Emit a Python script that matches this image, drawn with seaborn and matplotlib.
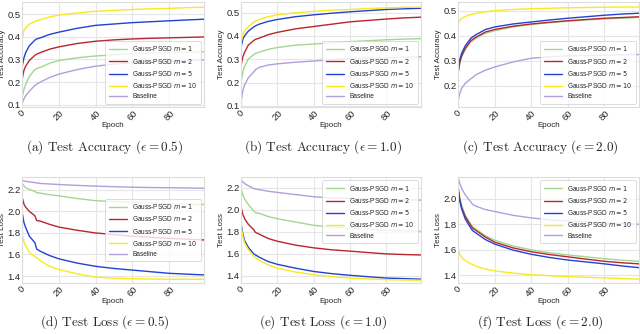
import matplotlib
matplotlib.use('Agg')
import matplotlib.pyplot as plt
import seaborn as sns
import pandas as pd

epochs = [0, 1, 2, 4, 7, 8, 10, 15, 20, 30, 40, 50, 60, 70, 80, 90, 99]

labels = ['Gauss-PSGD $m = 1$', 'Gauss-PSGD $m = 2$', 'Gauss-PSGD $m = 5$',
          'Gauss-PSGD $m = 10$', 'Baseline']
colors = ['#a3d68f', '#b8262e', '#2342d2', '#f9ea1c', '#b49ddb']

# test accuracy, eps = 0.5
acc05_m1 = [0.13, 0.165, 0.19, 0.225, 0.255, 0.26, 0.265, 0.283, 0.295, 0.307, 0.315, 0.32, 0.325, 0.328, 0.33, 0.332, 0.334]
acc05_m2 = [0.21, 0.25, 0.27, 0.295, 0.318, 0.323, 0.33, 0.345, 0.355, 0.37, 0.38, 0.386, 0.39, 0.393, 0.395, 0.397, 0.399]
acc05_m5 = [0.265, 0.305, 0.33, 0.36, 0.385, 0.39, 0.395, 0.41, 0.42, 0.437, 0.45, 0.456, 0.462, 0.466, 0.47, 0.474, 0.477]
acc05_m10 = [0.385, 0.425, 0.44, 0.455, 0.467, 0.47, 0.475, 0.487, 0.495, 0.505, 0.512, 0.516, 0.52, 0.523, 0.525, 0.528, 0.53]
acc05_base = [0.105, 0.125, 0.14, 0.16, 0.185, 0.19, 0.2, 0.22, 0.235, 0.255, 0.27, 0.279, 0.285, 0.289, 0.292, 0.295, 0.298]

# test accuracy, eps = 1.0
acc10_m1 = [0.2, 0.245, 0.27, 0.3, 0.32, 0.325, 0.33, 0.342, 0.35, 0.36, 0.365, 0.37, 0.375, 0.379, 0.383, 0.386, 0.388]
acc10_m2 = [0.27, 0.31, 0.33, 0.36, 0.38, 0.385, 0.39, 0.405, 0.415, 0.43, 0.44, 0.45, 0.46, 0.466, 0.472, 0.477, 0.48]
acc10_m5 = [0.35, 0.385, 0.4, 0.42, 0.438, 0.443, 0.45, 0.462, 0.47, 0.482, 0.49, 0.497, 0.503, 0.508, 0.513, 0.516, 0.518]
acc10_m10 = [0.37, 0.405, 0.42, 0.44, 0.458, 0.463, 0.47, 0.482, 0.49, 0.499, 0.505, 0.51, 0.513, 0.517, 0.52, 0.522, 0.523]
acc10_base = [0.115, 0.165, 0.19, 0.22, 0.245, 0.255, 0.265, 0.275, 0.28, 0.287, 0.292, 0.298, 0.302, 0.304, 0.306, 0.308, 0.31]

# test accuracy, eps = 2.0
acc20_m1 = [0.25, 0.29, 0.315, 0.345, 0.375, 0.38, 0.39, 0.41, 0.42, 0.435, 0.445, 0.452, 0.458, 0.463, 0.467, 0.47, 0.473]
acc20_m2 = [0.25, 0.295, 0.32, 0.35, 0.38, 0.385, 0.395, 0.415, 0.425, 0.438, 0.447, 0.454, 0.46, 0.465, 0.47, 0.473, 0.476]
acc20_m5 = [0.26, 0.305, 0.33, 0.36, 0.39, 0.395, 0.405, 0.425, 0.435, 0.447, 0.455, 0.463, 0.47, 0.476, 0.482, 0.487, 0.49]
acc20_m10 = [0.45, 0.462, 0.47, 0.477, 0.485, 0.487, 0.49, 0.496, 0.5, 0.505, 0.508, 0.51, 0.512, 0.513, 0.514, 0.515, 0.515]
acc20_base = [0.14, 0.17, 0.19, 0.21, 0.228, 0.233, 0.245, 0.262, 0.275, 0.295, 0.31, 0.316, 0.32, 0.321, 0.322, 0.324, 0.325]

# test loss, eps = 0.5
loss05_m1 = [2.26, 2.24, 2.22, 2.205, 2.185, 2.175, 2.17, 2.155, 2.145, 2.12, 2.1, 2.092, 2.085, 2.078, 2.07, 2.067, 2.065]
loss05_m2 = [2.14, 2.07, 2.04, 2.0, 1.96, 1.915, 1.91, 1.88, 1.855, 1.825, 1.8, 1.785, 1.77, 1.76, 1.75, 1.742, 1.735]
loss05_m5 = [2.0, 1.9, 1.85, 1.77, 1.71, 1.65, 1.63, 1.59, 1.56, 1.52, 1.49, 1.47, 1.455, 1.44, 1.425, 1.417, 1.41]
loss05_m10 = [1.79, 1.72, 1.68, 1.62, 1.58, 1.57, 1.54, 1.49, 1.46, 1.42, 1.39, 1.38, 1.375, 1.372, 1.37, 1.37, 1.37]
loss05_base = [2.29, 2.285, 2.28, 2.275, 2.268, 2.265, 2.26, 2.255, 2.25, 2.242, 2.235, 2.23, 2.225, 2.222, 2.22, 2.218, 2.215]

# test loss, eps = 1.0
loss10_m1 = [2.2, 2.14, 2.1, 2.05, 1.99, 1.975, 1.97, 1.94, 1.92, 1.89, 1.86, 1.845, 1.835, 1.825, 1.815, 1.81, 1.805]
loss10_m2 = [2.03, 1.96, 1.92, 1.87, 1.82, 1.795, 1.78, 1.74, 1.715, 1.68, 1.655, 1.637, 1.625, 1.612, 1.6, 1.594, 1.59]
loss10_m5 = [1.88, 1.78, 1.72, 1.66, 1.6, 1.59, 1.57, 1.53, 1.505, 1.47, 1.44, 1.42, 1.405, 1.392, 1.38, 1.375, 1.37]
loss10_m10 = [1.86, 1.76, 1.7, 1.64, 1.58, 1.565, 1.54, 1.5, 1.47, 1.435, 1.41, 1.393, 1.38, 1.372, 1.365, 1.362, 1.36]
loss10_base = [2.27, 2.255, 2.24, 2.22, 2.195, 2.19, 2.185, 2.17, 2.16, 2.14, 2.12, 2.11, 2.105, 2.1, 2.095, 2.092, 2.09]

# test loss, eps = 2.0
loss20_m1 = [2.1, 2.01, 1.95, 1.87, 1.8, 1.78, 1.76, 1.71, 1.675, 1.63, 1.6, 1.577, 1.56, 1.545, 1.53, 1.518, 1.51]
loss20_m2 = [2.09, 1.99, 1.93, 1.86, 1.79, 1.77, 1.75, 1.7, 1.66, 1.615, 1.585, 1.563, 1.545, 1.527, 1.51, 1.498, 1.49]
loss20_m5 = [2.08, 1.98, 1.92, 1.84, 1.77, 1.75, 1.73, 1.68, 1.645, 1.598, 1.565, 1.54, 1.52, 1.505, 1.49, 1.473, 1.46]
loss20_m10 = [1.6, 1.565, 1.54, 1.515, 1.49, 1.485, 1.47, 1.45, 1.435, 1.418, 1.405, 1.397, 1.39, 1.385, 1.38, 1.375, 1.37]
loss20_base = [2.17, 2.12, 2.08, 2.03, 1.975, 1.955, 1.94, 1.915, 1.9, 1.87, 1.85, 1.835, 1.825, 1.817, 1.81, 1.805, 1.8]

panels = [
    ([acc05_m1, acc05_m2, acc05_m5, acc05_m10, acc05_base], 'Test Accuracy', (0.09, 0.553), [0.1, 0.2, 0.3, 0.4, 0.5], 'lower right', r'(a) Test Accuracy ($\epsilon = 0.5$)'),
    ([acc10_m1, acc10_m2, acc10_m5, acc10_m10, acc10_base], 'Test Accuracy', (0.095, 0.545), [0.1, 0.2, 0.3, 0.4, 0.5], 'lower right', r'(b) Test Accuracy ($\epsilon = 1.0$)'),
    ([acc20_m1, acc20_m2, acc20_m5, acc20_m10, acc20_base], 'Test Accuracy', (0.115, 0.535), [0.2, 0.3, 0.4, 0.5], 'lower right', r'(c) Test Accuracy ($\epsilon = 2.0$)'),
    ([loss05_m1, loss05_m2, loss05_m5, loss05_m10, loss05_base], 'Test Loss', (1.335, 2.32), [1.4, 1.6, 1.8, 2.0, 2.2], 'center right', r'(d) Test Loss ($\epsilon = 0.5$)'),
    ([loss10_m1, loss10_m2, loss10_m5, loss10_m10, loss10_base], 'Test Loss', (1.335, 2.3), [1.4, 1.6, 1.8, 2.0, 2.2], 'upper right', r'(e) Test Loss ($\epsilon = 1.0$)'),
    ([loss20_m1, loss20_m2, loss20_m5, loss20_m10, loss20_base], 'Test Loss', (1.34, 2.17), [1.4, 1.6, 1.8, 2.0], 'upper right', r'(f) Test Loss ($\epsilon = 2.0$)'),
]

sns.set_style('whitegrid', {'grid.color': '#e6e6e6', 'axes.edgecolor': '#dddddd'})
plt.rcParams['font.family'] = ['Liberation Sans', 'DejaVu Sans']

fig = plt.figure(figsize=(6.4, 3.34), dpi=100)
W, H = 640.0, 334.0
lefts = [22, 241, 458]
widths = [182, 180, 181]
rows = [(2, 107), (177, 283)]

for i, (series, ylab, ylim, yticks, loc, cap) in enumerate(panels):
    r, c = divmod(i, 3)
    top, bot = rows[r]
    ax = fig.add_axes([lefts[c] / W, 1 - bot / H, widths[c] / W, (bot - top) / H])
    for vals, lab, col in zip(series, labels, colors):
        df = pd.DataFrame({'Epoch': epochs, 'val': vals})
        sns.lineplot(data=df, x='Epoch', y='val', ax=ax, color=col, lw=1.0, label=lab)
    ax.set_xlim(0, 99)
    ax.set_ylim(*ylim)
    ax.set_xticks([0, 20, 40, 60, 80])
    ax.set_yticks(yticks)
    ax.tick_params(labelsize=6.8, pad=1, length=0)
    plt.setp(ax.get_xticklabels(), rotation=45)
    ax.set_xlabel('Epoch', fontsize=5.8, labelpad=0)
    ax.set_ylabel(ylab, fontsize=5.8, labelpad=1)
    for s in ax.spines.values():
        s.set_linewidth(0.8)
    leg = ax.legend(loc=loc, fontsize=4.7, frameon=True, handlelength=2.8,
                    borderpad=0.5, labelspacing=0.5, fancybox=True)
    leg.get_frame().set_edgecolor('#cccccc')
    leg.get_frame().set_linewidth(0.6)
    cy = 147 if r == 0 else 322
    fig.text((lefts[c] + widths[c] / 2 - 8) / W, 1 - cy / H, cap, ha='center', va='center',
             fontsize=9.5, family='cmr10', math_fontfamily='cm')

fig.savefig('out.png', dpi=100)
